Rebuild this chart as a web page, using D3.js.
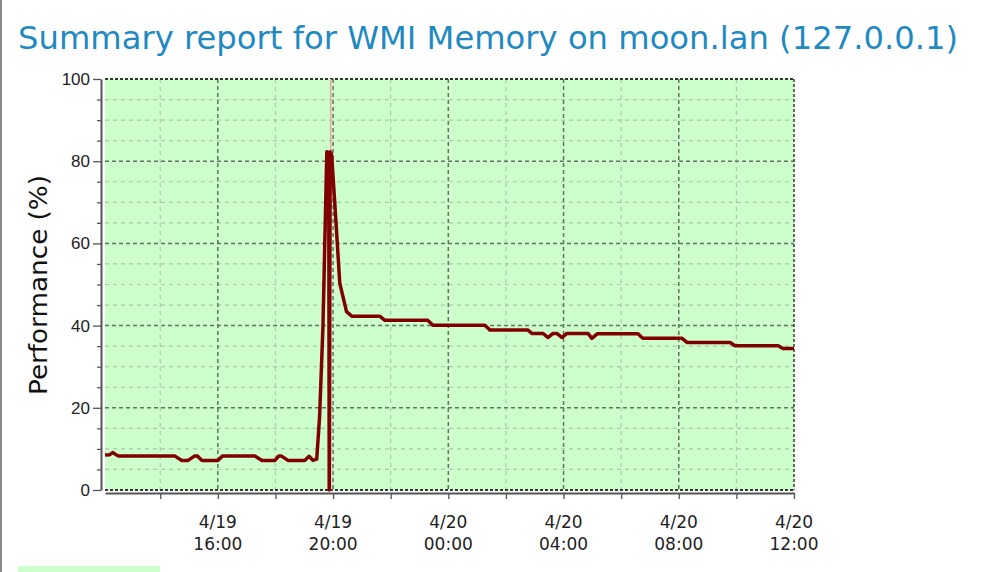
<!DOCTYPE html>
<html>
<head>
<meta charset="utf-8">
<script src="https://cdn.jsdelivr.net/npm/d3@7"></script>
<style>
  body { margin: 0; background: #fff; }
  svg { display: block; font-family: "DejaVu Sans", sans-serif; }
</style>
</head>
<body>
<svg id="chart" width="994" height="572"></svg>
<script>
const TITLE = "Summary report for WMI Memory on moon.lan (127.0.0.1)";
const Y_LABEL = "Performance (%)";

// samples
const sampleTimes = [
  "4/19 12:05", "4/19 12:15", "4/19 12:21", "4/19 12:32", "4/19 14:30", "4/19 14:45",
  "4/19 14:58", "4/19 15:12", "4/19 15:17", "4/19 15:27", "4/19 16:00", "4/19 16:10",
  "4/19 17:17", "4/19 17:32", "4/19 17:59", "4/19 18:07", "4/19 18:12", "4/19 18:26",
  "4/19 19:01", "4/19 19:10", "4/19 19:18", "4/19 19:26", "4/19 19:32", "4/19 19:39",
  "4/19 19:47", "4/19 19:51", "4/19 19:52", "4/19 19:54", "4/19 19:57", "4/19 20:04",
  "4/19 20:14", "4/19 20:28", "4/19 20:39", "4/19 21:37", "4/19 21:48", "4/19 23:17",
  "4/19 23:28", "4/20 01:16", "4/20 01:27", "4/20 02:46", "4/20 02:54", "4/20 03:17",
  "4/20 03:28", "4/20 03:38", "4/20 03:46", "4/20 03:57", "4/20 04:07", "4/20 04:51",
  "4/20 04:59", "4/20 05:10", "4/20 06:35", "4/20 06:45", "4/20 08:07", "4/20 08:17",
  "4/20 09:47", "4/20 09:57", "4/20 11:27", "4/20 11:37", "4/20 12:00"
];
const sampleValues = [
  8.5, 8.6, 9.1, 8.3, 8.3, 7.2,
  7.2, 8.3, 8.3, 7.2, 7.2, 8.3,
  8.3, 7.2, 7.2, 8.3, 8.3, 7.2,
  7.2, 8.2, 7.2, 7.5, 18, 40,
  82.3, 82, 0, 82.3, 81.5, 69,
  50.3, 43.4, 42.3, 42.3, 41.3, 41.3,
  40.1, 40.1, 38.9, 38.9, 38.1, 38.1,
  37.1, 38.1, 38.1, 37.1, 38.1, 38.1,
  36.9, 38, 38, 36.9, 36.9, 35.9,
  35.9, 35.1, 35.1, 34.4, 34.4
];

const timeStart = "4/19 12:05";
const timeEnd = "4/20 12:00";
const restartTime = "4/19 19:55";
const yTicks = [0, 20, 40, 60, 80, 100];

const parseTime = d3.utcParse("%m/%d %H:%M");
const data = sampleTimes.map((t, i) => ({ t: parseTime(t), v: sampleValues[i] }));

const svg = d3.select("#chart");
const plot = { left: 105, right: 794, top: 79, bottom: 490 };

const x = d3.scaleUtc()
  .domain([parseTime(timeStart), parseTime(timeEnd)])
  .range([plot.left, plot.right]);
const y = d3.scaleLinear()
  .domain([0, 100])
  .range([plot.bottom, plot.top]);

// page decorations
svg.append("rect").attr("x", 0).attr("y", 0).attr("width", 2).attr("height", 572).attr("fill", "#8a8a8a");
svg.append("rect").attr("x", 18).attr("y", 566).attr("width", 142).attr("height", 6).attr("fill", "#ccffcc");

svg.append("text")
  .attr("x", 18).attr("y", 49)
  .attr("fill", "#1f8ac2")
  .style("font-size", "32px")
  .attr("textLength", 940)
  .attr("lengthAdjust", "spacingAndGlyphs")
  .text(TITLE);

// plot background
svg.append("rect")
  .attr("x", plot.left).attr("y", plot.top)
  .attr("width", plot.right - plot.left).attr("height", plot.bottom - plot.top)
  .attr("fill", "#ccffcc");

// grid
let grid = svg.append("g");
let hourTicks = x.ticks(d3.utcHour.every(2));
let majorHours = hourTicks.filter(d => d.getUTCHours() % 4 === 0 && +d !== +x.domain()[1]);
let minorHours = hourTicks.filter(d => d.getUTCHours() % 4 !== 0);
let minorY = d3.range(5, 100, 5).filter(v => v % 20 !== 0);
let majorY = yTicks.filter(v => v > 0 && v < 100);

grid.selectAll(".hminor").data(minorY).enter().append("line")
  .attr("x1", plot.left).attr("x2", plot.right)
  .attr("y1", d => y(d)).attr("y2", d => y(d))
  .attr("stroke", "#a8c8a8").attr("stroke-width", 1.2).attr("stroke-dasharray", "4,4");
grid.selectAll(".vminor").data(minorHours).enter().append("line")
  .attr("x1", d => x(d)).attr("x2", d => x(d))
  .attr("y1", plot.top).attr("y2", plot.bottom)
  .attr("stroke", "#a8c8a8").attr("stroke-width", 1.2).attr("stroke-dasharray", "4,4");
grid.selectAll(".hmajor").data(majorY).enter().append("line")
  .attr("x1", plot.left).attr("x2", plot.right)
  .attr("y1", d => y(d)).attr("y2", d => y(d))
  .attr("stroke", "#5f735f").attr("stroke-width", 1.5).attr("stroke-dasharray", "4,3");
grid.selectAll(".vmajor").data(majorHours).enter().append("line")
  .attr("x1", d => x(d)).attr("x2", d => x(d))
  .attr("y1", plot.top).attr("y2", plot.bottom)
  .attr("stroke", "#5f735f").attr("stroke-width", 1.5).attr("stroke-dasharray", "4,3");

// frame: top, bottom, right
grid.selectAll(".hedge").data([0, 100]).enter().append("line")
  .attr("x1", plot.left).attr("x2", plot.right)
  .attr("y1", d => y(d)).attr("y2", d => y(d))
  .attr("stroke", "#2f3a2f").attr("stroke-width", 1.8).attr("stroke-dasharray", "3,2");
grid.append("line")
  .attr("x1", plot.right).attr("x2", plot.right)
  .attr("y1", plot.top).attr("y2", plot.bottom)
  .attr("stroke", "#3f4a3f").attr("stroke-width", 1.6).attr("stroke-dasharray", "3,2");

// restart marker
svg.append("line")
  .attr("x1", x(parseTime(restartTime))).attr("x2", x(parseTime(restartTime)))
  .attr("y1", plot.top).attr("y2", plot.bottom)
  .attr("stroke", "#f2a4a4").attr("stroke-width", 1.5);

// series
svg.append("path")
  .datum(data)
  .attr("fill", "none")
  .attr("stroke", "#800000")
  .attr("stroke-width", 3.5)
  .attr("stroke-linejoin", "round")
  .attr("d", d3.line().x(d => x(d.t)).y(d => y(d.v)));

// y axis
let yAxisG = svg.append("g").attr("transform", "translate(101,0)");
yAxisG.append("g")
  .call(d3.axisLeft(y).tickValues(d3.range(0, 101, 5).filter(v => v % 20 !== 0)).tickSize(4).tickFormat(""))
  .call(g => g.select(".domain").remove());
yAxisG.append("g")
  .call(d3.axisLeft(y).tickValues(yTicks).tickSize(8).tickSizeOuter(0).tickPadding(3));
yAxisG.selectAll("line").attr("stroke", "#555").attr("stroke-width", 1.3);
yAxisG.selectAll(".domain").attr("stroke", "#555").attr("stroke-width", 2);
yAxisG.selectAll("text").style("font-size", "17px").attr("fill", "#222");

// x axis
let xAxisG = svg.append("g").attr("transform", "translate(0,493)")
  .call(d3.axisBottom(x).tickValues(hourTicks).tickSize(6).tickSizeOuter(0).tickFormat(""));
xAxisG.selectAll("line").attr("stroke", "#555").attr("stroke-width", 1.3);
xAxisG.select(".domain").attr("stroke", "#555").attr("stroke-width", 2);

let labelHours = hourTicks.filter(d => d.getUTCHours() % 4 === 0);
let xLabels = svg.append("g").selectAll("text").data(labelHours).enter().append("text")
  .attr("text-anchor", "middle")
  .attr("fill", "#222")
  .style("font-size", "17px");
xLabels.append("tspan").attr("x", d => x(d)).attr("y", 528).text(d3.utcFormat("%-m/%d"));
xLabels.append("tspan").attr("x", d => x(d)).attr("y", 550).text(d3.utcFormat("%H:%M"));

// y title
svg.append("text")
  .attr("transform", "translate(47,285) rotate(-90)")
  .attr("text-anchor", "middle")
  .attr("fill", "#111")
  .style("font-size", "25px")
  .attr("textLength", 220)
  .attr("lengthAdjust", "spacingAndGlyphs")
  .text(Y_LABEL);
</script>
</body>
</html>
